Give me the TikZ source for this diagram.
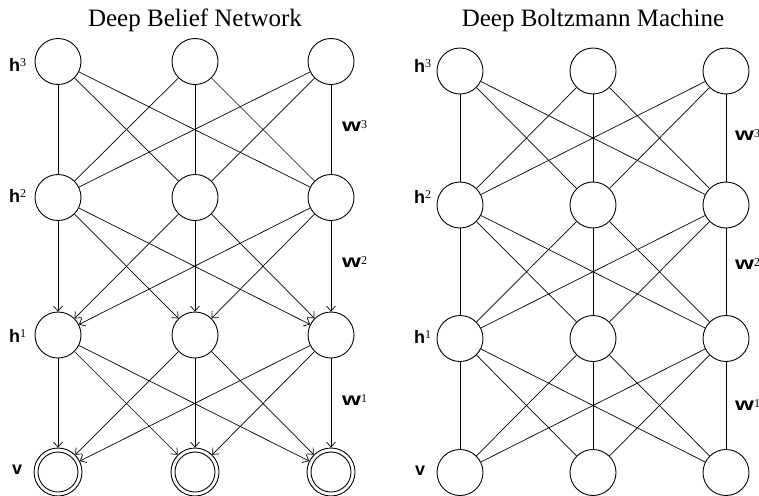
\documentclass[tikz,border=0pt]{standalone}
\usepackage{fontspec}
\usepackage{graphicx}
\setmainfont{Liberation Serif}
\setsansfont{Liberation Sans}
\usetikzlibrary{arrows.meta}

% layer name with a serif superscript
\newcommand\layername[2]{{\sffamily\bfseries #1}\raisebox{5pt}{\fontsize{12}{12}\selectfont\rmfamily #2}}
% weight name: wide bold w with a serif superscript
\newcommand\weightname[1]{\scalebox{1.35}[1]{\sffamily\bfseries w}\raisebox{3pt}{\fontsize{12}{12}\selectfont\rmfamily #1}}

\begin{document}
\begin{tikzpicture}[x=1pt,y=-1pt,
  unit/.style={circle,draw,line width=0.9pt,minimum size=46pt,inner sep=0pt},
  visunit/.style={unit,minimum size=48pt},
  link/.style={line width=0.7pt},
  dlink/.style={link,-{Straight Barb[length=5pt,width=9pt,line width=0.7pt]}},
  heading/.style={font=\fontsize{25}{25}\selectfont,inner sep=0pt,anchor=base},
  lbl/.style={font=\fontsize{18}{18}\selectfont,inner sep=0pt,anchor=base west}]
\useasboundingbox (0,0) rectangle (759,495);

% ---------------- Deep Belief Network ----------------
\node[heading] (t1) at (195,27) {Deep Belief Network};

\foreach \c/\x in {1/58,2/195,3/331}{
  \node[unit] (a3\c) at (\x,61.5) {};
  \node[unit] (a2\c) at (\x,197.5) {};
  \node[unit] (a1\c) at (\x,335) {};
  \node[visunit] (a0\c) at (\x,472) {};
  \draw[line width=0.9pt] (a0\c.center) circle[radius=20];
}

% undirected top layer, directed lower layers
\foreach \i in {1,2,3}{
  \foreach \j in {1,2,3}{
    \draw[link] (a3\i) -- (a2\j);
    \draw[dlink] (a2\i) -- (a1\j);
    \draw[dlink] (a1\i) -- (a0\j);
  }
}

\node[lbl] (ah3) at (9,71) {\layername{h}{3}};
\node[lbl] (ah2) at (9,202) {\layername{h}{2}};
\node[lbl] (ah1) at (9,342) {\layername{h}{1}};
\node[lbl] (av)  at (12,474) {\layername{v}{}};

\node[lbl] (aw3) at (342,131) {\weightname{3}};
\node[lbl] (aw2) at (342,267) {\weightname{2}};
\node[lbl] (aw1) at (342,405) {\weightname{1}};

% ---------------- Deep Boltzmann Machine ----------------
\node[heading] (t2) at (593,27) {Deep Boltzmann Machine};

\foreach \c/\x in {1/460,2/593,3/726}{
  \node[unit] (b3\c) at (\x,71) {};
  \node[unit] (b2\c) at (\x,205) {};
  \node[unit] (b1\c) at (\x,338.5) {};
  \node[unit] (b0\c) at (\x,472.5) {};
}

% all layers undirected
\foreach \i in {1,2,3}{
  \foreach \j in {1,2,3}{
    \draw[link] (b3\i) -- (b2\j);
    \draw[link] (b2\i) -- (b1\j);
    \draw[link] (b1\i) -- (b0\j);
  }
}

\node[lbl] (bh3) at (414,72) {\layername{h}{3}};
\node[lbl] (bh2) at (414,203.5) {\layername{h}{2}};
\node[lbl] (bh1) at (414,343) {\layername{h}{1}};
\node[lbl] (bv)  at (415,475) {\layername{v}{}};

\node[lbl] (bw3) at (735,140) {\weightname{3}};
\node[lbl] (bw2) at (735,269) {\weightname{2}};
\node[lbl] (bw1) at (735,410) {\weightname{1}};
\end{tikzpicture}
\end{document}
